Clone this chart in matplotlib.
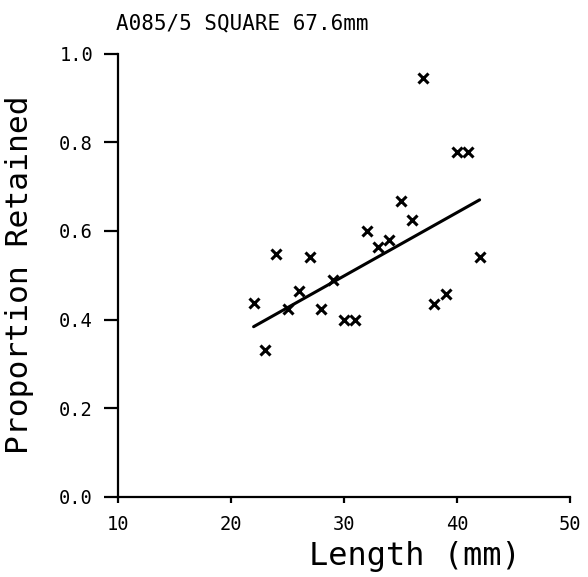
import matplotlib
matplotlib.use("Agg")
import matplotlib.pyplot as plt
import numpy as np

# Data
length_mm = [22, 23, 24, 25, 26, 27, 28, 29, 30, 31, 32, 33, 34, 35, 36, 37, 38, 39, 40, 41, 42]
proportion = [0.437, 0.331, 0.549, 0.425, 0.464, 0.542, 0.424, 0.489, 0.399, 0.399, 0.600,
              0.564, 0.579, 0.667, 0.625, 0.944, 0.435, 0.457, 0.777, 0.777, 0.542]
fit_x = [22, 42]
fit_y = [0.384, 0.670]

title = "A085/5 SQUARE 67.6mm"
xlabel = "Length (mm)"
ylabel = "Proportion Retained"
xticks = [10, 20, 30, 40, 50]
yticks = [0.0, 0.2, 0.4, 0.6, 0.8, 1.0]

plt.rcParams['font.family'] = ['DejaVu Sans Mono']

W, H = 588, 577
fig = plt.figure(figsize=(W / 100, H / 100), dpi=100)
left, right, bottom, top = 118, 570, 497, 53.5
ax = fig.add_axes([left / W, 1 - bottom / H, (right - left) / W, (bottom - top) / H])

ax.plot(length_mm, proportion, linestyle='none', marker='x', color='black',
        markersize=7, markeredgewidth=2.2, clip_on=False)
ax.plot(fit_x, fit_y, color='black', linewidth=2.2, solid_capstyle='round')

ax.set_xlim(10, 50)
ax.set_ylim(0, 1.0)
ax.set_xticks(xticks)
ax.set_yticks(yticks)
ax.set_xticklabels([str(v) for v in xticks], fontsize=13.5)
ax.set_yticklabels([f"{v:.1f}" for v in yticks], fontsize=13.5)

for s in ['top', 'right']:
    ax.spines[s].set_visible(False)
for s in ['left', 'bottom']:
    ax.spines[s].set_linewidth(1.6)

ax.tick_params(axis='y', direction='out', length=10, width=1.6, pad=8)
ax.tick_params(axis='x', direction='out', length=4, width=1.6, pad=9)

fig.text(242 / W, 1 - 23 / H, title, ha='center', va='center', fontsize=15)
fig.text(415 / W, 1 - 557 / H, xlabel, ha='center', va='center', fontsize=23)
fig.text(20 / W, 1 - 275 / H, ylabel, ha='center', va='center', fontsize=22.5, rotation=90)

fig.savefig("out.png", dpi=100, facecolor='white')
